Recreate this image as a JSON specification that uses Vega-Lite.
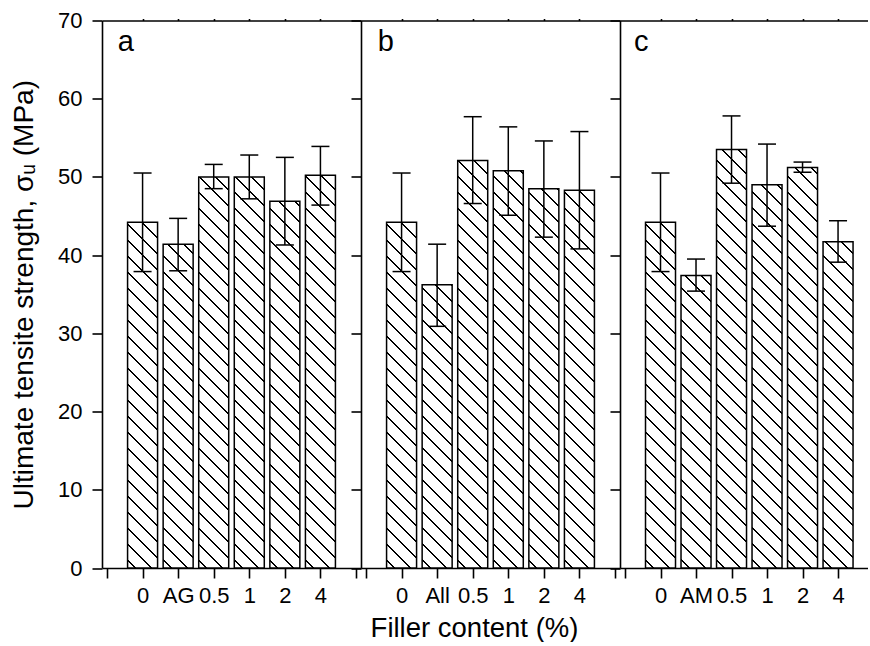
{
  "$schema": "https://vega.github.io/schema/vega-lite/v6.json",
  "padding": {"left": 10, "top": 9.5, "right": 0, "bottom": 0},
  "bounds": "flush",
  "spacing": 0,
  "params": [
    {"name": "hatch", "value": [
      {"offset": 0, "color": "#fff"},
      {"offset": 0.014583, "color": "#fff"}, {"offset": 0.014583, "color": "#000"}, {"offset": 0.01875, "color": "#000"}, {"offset": 0.01875, "color": "#fff"},
      {"offset": 0.047917, "color": "#fff"}, {"offset": 0.047917, "color": "#000"}, {"offset": 0.052083, "color": "#000"}, {"offset": 0.052083, "color": "#fff"},
      {"offset": 0.08125, "color": "#fff"}, {"offset": 0.08125, "color": "#000"}, {"offset": 0.085417, "color": "#000"}, {"offset": 0.085417, "color": "#fff"},
      {"offset": 0.114583, "color": "#fff"}, {"offset": 0.114583, "color": "#000"}, {"offset": 0.11875, "color": "#000"}, {"offset": 0.11875, "color": "#fff"},
      {"offset": 0.147917, "color": "#fff"}, {"offset": 0.147917, "color": "#000"}, {"offset": 0.152083, "color": "#000"}, {"offset": 0.152083, "color": "#fff"},
      {"offset": 0.18125, "color": "#fff"}, {"offset": 0.18125, "color": "#000"}, {"offset": 0.185417, "color": "#000"}, {"offset": 0.185417, "color": "#fff"},
      {"offset": 0.214583, "color": "#fff"}, {"offset": 0.214583, "color": "#000"}, {"offset": 0.21875, "color": "#000"}, {"offset": 0.21875, "color": "#fff"},
      {"offset": 0.247917, "color": "#fff"}, {"offset": 0.247917, "color": "#000"}, {"offset": 0.252083, "color": "#000"}, {"offset": 0.252083, "color": "#fff"},
      {"offset": 0.28125, "color": "#fff"}, {"offset": 0.28125, "color": "#000"}, {"offset": 0.285417, "color": "#000"}, {"offset": 0.285417, "color": "#fff"},
      {"offset": 0.314583, "color": "#fff"}, {"offset": 0.314583, "color": "#000"}, {"offset": 0.31875, "color": "#000"}, {"offset": 0.31875, "color": "#fff"},
      {"offset": 0.347917, "color": "#fff"}, {"offset": 0.347917, "color": "#000"}, {"offset": 0.352083, "color": "#000"}, {"offset": 0.352083, "color": "#fff"},
      {"offset": 0.38125, "color": "#fff"}, {"offset": 0.38125, "color": "#000"}, {"offset": 0.385417, "color": "#000"}, {"offset": 0.385417, "color": "#fff"},
      {"offset": 0.414583, "color": "#fff"}, {"offset": 0.414583, "color": "#000"}, {"offset": 0.41875, "color": "#000"}, {"offset": 0.41875, "color": "#fff"},
      {"offset": 0.447917, "color": "#fff"}, {"offset": 0.447917, "color": "#000"}, {"offset": 0.452083, "color": "#000"}, {"offset": 0.452083, "color": "#fff"},
      {"offset": 0.48125, "color": "#fff"}, {"offset": 0.48125, "color": "#000"}, {"offset": 0.485417, "color": "#000"}, {"offset": 0.485417, "color": "#fff"},
      {"offset": 0.514583, "color": "#fff"}, {"offset": 0.514583, "color": "#000"}, {"offset": 0.51875, "color": "#000"}, {"offset": 0.51875, "color": "#fff"},
      {"offset": 0.547917, "color": "#fff"}, {"offset": 0.547917, "color": "#000"}, {"offset": 0.552083, "color": "#000"}, {"offset": 0.552083, "color": "#fff"},
      {"offset": 0.58125, "color": "#fff"}, {"offset": 0.58125, "color": "#000"}, {"offset": 0.585417, "color": "#000"}, {"offset": 0.585417, "color": "#fff"},
      {"offset": 0.614583, "color": "#fff"}, {"offset": 0.614583, "color": "#000"}, {"offset": 0.61875, "color": "#000"}, {"offset": 0.61875, "color": "#fff"},
      {"offset": 0.647917, "color": "#fff"}, {"offset": 0.647917, "color": "#000"}, {"offset": 0.652083, "color": "#000"}, {"offset": 0.652083, "color": "#fff"},
      {"offset": 0.68125, "color": "#fff"}, {"offset": 0.68125, "color": "#000"}, {"offset": 0.685417, "color": "#000"}, {"offset": 0.685417, "color": "#fff"},
      {"offset": 0.714583, "color": "#fff"}, {"offset": 0.714583, "color": "#000"}, {"offset": 0.71875, "color": "#000"}, {"offset": 0.71875, "color": "#fff"},
      {"offset": 0.747917, "color": "#fff"}, {"offset": 0.747917, "color": "#000"}, {"offset": 0.752083, "color": "#000"}, {"offset": 0.752083, "color": "#fff"},
      {"offset": 0.78125, "color": "#fff"}, {"offset": 0.78125, "color": "#000"}, {"offset": 0.785417, "color": "#000"}, {"offset": 0.785417, "color": "#fff"},
      {"offset": 0.814583, "color": "#fff"}, {"offset": 0.814583, "color": "#000"}, {"offset": 0.81875, "color": "#000"}, {"offset": 0.81875, "color": "#fff"},
      {"offset": 0.847917, "color": "#fff"}, {"offset": 0.847917, "color": "#000"}, {"offset": 0.852083, "color": "#000"}, {"offset": 0.852083, "color": "#fff"},
      {"offset": 0.88125, "color": "#fff"}, {"offset": 0.88125, "color": "#000"}, {"offset": 0.885417, "color": "#000"}, {"offset": 0.885417, "color": "#fff"},
      {"offset": 0.914583, "color": "#fff"}, {"offset": 0.914583, "color": "#000"}, {"offset": 0.91875, "color": "#000"}, {"offset": 0.91875, "color": "#fff"},
      {"offset": 0.947917, "color": "#fff"}, {"offset": 0.947917, "color": "#000"}, {"offset": 0.952083, "color": "#000"}, {"offset": 0.952083, "color": "#fff"},
      {"offset": 0.98125, "color": "#fff"}, {"offset": 0.98125, "color": "#000"}, {"offset": 0.985417, "color": "#000"}, {"offset": 0.985417, "color": "#fff"},
      {"offset": 1, "color": "#fff"}
    ]}
  ],
  "data": {"values": [
    {"panel": "a", "filler": "0", "idx": 1, "mean": 44.2, "lo": 37.9, "hi": 50.5},
    {"panel": "a", "filler": "AG", "idx": 2, "mean": 41.4, "lo": 38.0, "hi": 44.7},
    {"panel": "a", "filler": "0.5", "idx": 3, "mean": 50.0, "lo": 48.5, "hi": 51.6},
    {"panel": "a", "filler": "1", "idx": 4, "mean": 50.0, "lo": 47.2, "hi": 52.8},
    {"panel": "a", "filler": "2", "idx": 5, "mean": 46.9, "lo": 41.3, "hi": 52.5},
    {"panel": "a", "filler": "4", "idx": 6, "mean": 50.2, "lo": 46.4, "hi": 53.9},
    {"panel": "b", "filler": "0", "idx": 1, "mean": 44.2, "lo": 37.9, "hi": 50.5},
    {"panel": "b", "filler": "All", "idx": 2, "mean": 36.2, "lo": 30.9, "hi": 41.4},
    {"panel": "b", "filler": "0.5", "idx": 3, "mean": 52.1, "lo": 46.6, "hi": 57.7},
    {"panel": "b", "filler": "1", "idx": 4, "mean": 50.8, "lo": 45.1, "hi": 56.4},
    {"panel": "b", "filler": "2", "idx": 5, "mean": 48.5, "lo": 42.3, "hi": 54.6},
    {"panel": "b", "filler": "4", "idx": 6, "mean": 48.3, "lo": 40.8, "hi": 55.8},
    {"panel": "c", "filler": "0", "idx": 1, "mean": 44.2, "lo": 37.9, "hi": 50.5},
    {"panel": "c", "filler": "AM", "idx": 2, "mean": 37.4, "lo": 35.4, "hi": 39.5},
    {"panel": "c", "filler": "0.5", "idx": 3, "mean": 53.5, "lo": 49.2, "hi": 57.8},
    {"panel": "c", "filler": "1", "idx": 4, "mean": 49.0, "lo": 43.7, "hi": 54.2},
    {"panel": "c", "filler": "2", "idx": 5, "mean": 51.2, "lo": 50.6, "hi": 51.9},
    {"panel": "c", "filler": "4", "idx": 6, "mean": 41.7, "lo": 39.1, "hi": 44.4}
  ]},
  "config": {
    "view": {"stroke": null},
    "font": "Liberation Sans",
    "axis": {
      "grid": false,
      "domainColor": "#000",
      "domainWidth": 1.6,
      "tickColor": "#000",
      "tickWidth": 1.6,
      "labelColor": "#000",
      "titleColor": "#000",
      "labelFont": "Liberation Sans",
      "titleFont": "Liberation Sans",
      "labelFontSize": 22,
      "titleFontSize": 27.5,
      "titleFontWeight": "normal",
      "labelOverlap": false,
      "labelFlush": false,
      "labelBound": false
    },
    "text": {"font": "Liberation Sans"}
  },
  "hconcat": [
    {
      "width": 259,
      "height": 547.5,
      "transform": [{"filter": "datum.panel === 'a'"}],
      "resolve": {"axis": {"x": "independent"}},
      "layer": [
        {
          "mark": {"type": "bar", "width": 30, "stroke": "#000", "strokeWidth": 1.5,
            "fill": {"expr": "{gradient: 'linear', x1: 0, y1: 1, x2: 480*30/(pow(datum.mean*7.82143,2)+900), y2: 1-480*datum.mean*7.82143/(pow(datum.mean*7.82143,2)+900), stops: hatch}"}},
          "encoding": {
            "x": {"field": "idx", "type": "quantitative", "scale": {"domain": [0, 7], "nice": false, "zero": false},
              "axis": {"orient": "bottom", "values": [0, 1, 2, 3, 4, 5, 6, 7], "tickSize": 10, "labelPadding": 7,
                "labelExpr": "['', '0', 'AG', '0.5', '1', '2', '4', ''][datum.value]", "title": null}},
            "y": {"field": "mean", "type": "quantitative", "scale": {"domain": [0, 70], "nice": false},
              "axis": {"orient": "left", "values": [0, 5, 10, 15, 20, 25, 30, 35, 40, 45, 50, 55, 60, 65, 70],
                "tickSize": {"condition": {"test": "datum.value % 10 === 0", "value": 10}, "value": 6},
                "labelPadding": 10,
                "labelExpr": "datum.value % 10 === 0 ? datum.label : ''",
                "title": "Ultimate tensite strength, σᵤ (MPa)", "titleFontSize": 28, "titlePadding": 19}}
          }
        },
        {
          "mark": {"type": "rule", "stroke": "#000", "strokeWidth": 1.5},
          "encoding": {
            "x": {"field": "idx", "type": "quantitative",
              "axis": {"orient": "top", "values": [1, 2, 3, 4, 5, 6], "tickSize": 2, "labels": false, "title": null}},
            "y": {"field": "lo", "type": "quantitative"},
            "y2": {"field": "hi"}
          }
        },
        {
          "mark": {"type": "rule", "stroke": "#000", "strokeWidth": 1.5, "xOffset": -9, "x2Offset": 9},
          "encoding": {
            "x": {"field": "idx", "type": "quantitative", "axis": null},
            "x2": {"field": "idx"},
            "y": {"field": "hi", "type": "quantitative"}
          }
        },
        {
          "mark": {"type": "rule", "stroke": "#000", "strokeWidth": 1.5, "xOffset": -9, "x2Offset": 9},
          "encoding": {
            "x": {"field": "idx", "type": "quantitative", "axis": null},
            "x2": {"field": "idx"},
            "y": {"field": "lo", "type": "quantitative"}
          }
        },
        {
          "data": {"values": [{"panel": "a"}]},
          "mark": {"type": "text", "fontSize": 29, "align": "left", "baseline": "alphabetic", "color": "#000"},
          "encoding": {
            "x": {"datum": 0.3, "type": "quantitative", "axis": null},
            "y": {"datum": 66.1, "type": "quantitative"},
            "text": {"field": "panel"}
          }
        }
      ]
    },
    {
      "width": 259,
      "height": 547.5,
      "transform": [{"filter": "datum.panel === 'b'"}],
      "resolve": {"axis": {"x": "independent"}},
      "layer": [
        {
          "mark": {"type": "bar", "width": 30, "stroke": "#000", "strokeWidth": 1.5,
            "fill": {"expr": "{gradient: 'linear', x1: 0, y1: 1, x2: 480*30/(pow(datum.mean*7.82143,2)+900), y2: 1-480*datum.mean*7.82143/(pow(datum.mean*7.82143,2)+900), stops: hatch}"}},
          "encoding": {
            "x": {"field": "idx", "type": "quantitative", "scale": {"domain": [0, 7], "nice": false, "zero": false},
              "axis": {"orient": "bottom", "values": [0, 1, 2, 3, 4, 5, 6, 7], "tickSize": 10, "labelPadding": 7,
                "labelExpr": "['', '0', 'All', '0.5', '1', '2', '4', ''][datum.value]",
                "title": "Filler content (%)", "titleX": 113, "titleAlign": "center", "titlePadding": 8}},
            "y": {"field": "mean", "type": "quantitative", "scale": {"domain": [0, 70], "nice": false},
              "axis": {"orient": "left", "values": [0, 5, 10, 15, 20, 25, 30, 35, 40, 45, 50, 55, 60, 65, 70],
                "tickSize": {"condition": {"test": "datum.value % 10 === 0", "value": 10}, "value": 6},
                "labels": false, "title": null}}
          }
        },
        {
          "mark": {"type": "rule", "stroke": "#000", "strokeWidth": 1.5},
          "encoding": {
            "x": {"field": "idx", "type": "quantitative",
              "axis": {"orient": "top", "values": [1, 2, 3, 4, 5, 6], "tickSize": 2, "labels": false, "title": null}},
            "y": {"field": "lo", "type": "quantitative"},
            "y2": {"field": "hi"}
          }
        },
        {
          "mark": {"type": "rule", "stroke": "#000", "strokeWidth": 1.5, "xOffset": -9, "x2Offset": 9},
          "encoding": {
            "x": {"field": "idx", "type": "quantitative", "axis": null},
            "x2": {"field": "idx"},
            "y": {"field": "hi", "type": "quantitative"}
          }
        },
        {
          "mark": {"type": "rule", "stroke": "#000", "strokeWidth": 1.5, "xOffset": -9, "x2Offset": 9},
          "encoding": {
            "x": {"field": "idx", "type": "quantitative", "axis": null},
            "x2": {"field": "idx"},
            "y": {"field": "lo", "type": "quantitative"}
          }
        },
        {
          "data": {"values": [{"panel": "b"}]},
          "mark": {"type": "text", "fontSize": 29, "align": "left", "baseline": "alphabetic", "color": "#000"},
          "encoding": {
            "x": {"datum": 0.33, "type": "quantitative", "axis": null},
            "y": {"datum": 66.1, "type": "quantitative"},
            "text": {"field": "panel"}
          }
        }
      ]
    },
    {
      "width": 248,
      "height": 547.5,
      "transform": [{"filter": "datum.panel === 'c'"}],
      "resolve": {"axis": {"x": "independent"}},
      "layer": [
        {
          "mark": {"type": "bar", "width": 30, "stroke": "#000", "strokeWidth": 1.5,
            "fill": {"expr": "{gradient: 'linear', x1: 0, y1: 1, x2: 480*30/(pow(datum.mean*7.82143,2)+900), y2: 1-480*datum.mean*7.82143/(pow(datum.mean*7.82143,2)+900), stops: hatch}"}},
          "encoding": {
            "x": {"field": "idx", "type": "quantitative", "scale": {"domain": [0, 6.7027], "nice": false, "zero": false},
              "axis": {"orient": "bottom", "values": [0, 1, 2, 3, 4, 5, 6], "tickSize": 10, "labelPadding": 7,
                "labelExpr": "['', '0', 'AM', '0.5', '1', '2', '4', ''][datum.value]", "title": null}},
            "y": {"field": "mean", "type": "quantitative", "scale": {"domain": [0, 70], "nice": false},
              "axis": {"orient": "left", "values": [0, 5, 10, 15, 20, 25, 30, 35, 40, 45, 50, 55, 60, 65, 70],
                "tickSize": {"condition": {"test": "datum.value % 10 === 0", "value": 10}, "value": 6},
                "labels": false, "title": null}}
          }
        },
        {
          "mark": {"type": "rule", "stroke": "#000", "strokeWidth": 1.5},
          "encoding": {
            "x": {"field": "idx", "type": "quantitative",
              "axis": {"orient": "top", "values": [1, 2, 3, 4, 5, 6], "tickSize": 2, "labels": false, "title": null}},
            "y": {"field": "lo", "type": "quantitative"},
            "y2": {"field": "hi"}
          }
        },
        {
          "mark": {"type": "rule", "stroke": "#000", "strokeWidth": 1.5, "xOffset": -9, "x2Offset": 9},
          "encoding": {
            "x": {"field": "idx", "type": "quantitative", "axis": null},
            "x2": {"field": "idx"},
            "y": {"field": "hi", "type": "quantitative"}
          }
        },
        {
          "mark": {"type": "rule", "stroke": "#000", "strokeWidth": 1.5, "xOffset": -9, "x2Offset": 9},
          "encoding": {
            "x": {"field": "idx", "type": "quantitative", "axis": null},
            "x2": {"field": "idx"},
            "y": {"field": "lo", "type": "quantitative"}
          }
        },
        {
          "data": {"values": [{"panel": "c"}]},
          "mark": {"type": "text", "fontSize": 29, "align": "left", "baseline": "alphabetic", "color": "#000"},
          "encoding": {
            "x": {"datum": 0.25, "type": "quantitative", "axis": null},
            "y": {"datum": 66.1, "type": "quantitative"},
            "text": {"field": "panel"}
          }
        }
      ]
    }
  ]
}
